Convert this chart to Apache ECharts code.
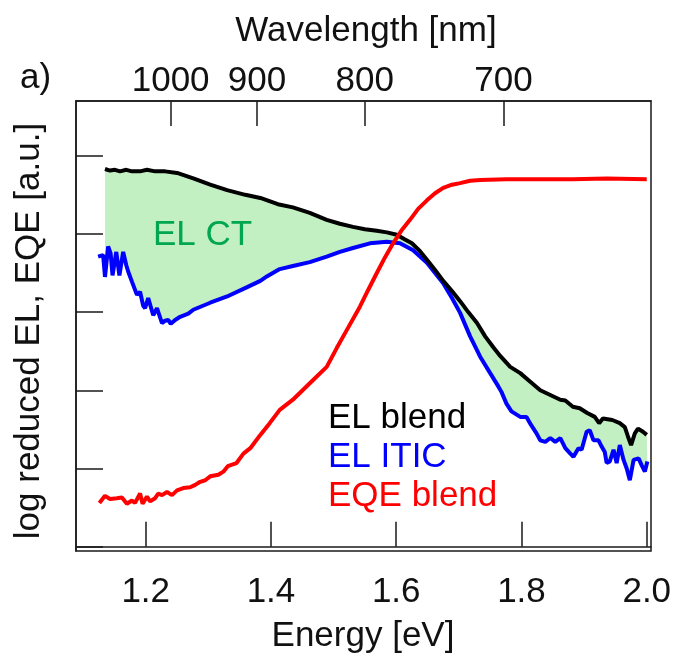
<!DOCTYPE html>
<html><head><meta charset="utf-8">
<script src="https://cdn.jsdelivr.net/npm/echarts@6/dist/echarts.min.js"></script>
<style>html,body{margin:0;padding:0;background:#fff}#c{width:675px;height:659px}</style>
</head><body><div id="c"></div>
<script>
// Energy axis (eV) and log reduced values (decades, arbitrary offset)
const blendE = [1.135,1.143,1.151,1.159,1.169,1.178,1.191,1.202,1.215,1.231,1.250,1.276,1.303,1.330,1.359,1.383,1.411,1.435,1.462,1.489,1.510,1.531,1.550,1.569,1.585,1.601,1.614,1.625,1.638,1.649,1.662,1.675,1.689,1.702,1.715,1.729,1.742,1.755,1.766,1.782,1.798,1.814,1.830,1.846,1.862,1.870,1.882,1.893,1.905,1.917,1.924,1.930,1.945,1.957,1.965,1.970,1.975,1.981,1.986,1.994,2.000];
const elBlend = [4.83,4.81,4.82,4.80,4.82,4.80,4.80,4.82,4.80,4.80,4.78,4.71,4.63,4.56,4.50,4.46,4.38,4.34,4.27,4.18,4.13,4.09,4.06,4.04,4.02,3.99,3.93,3.88,3.78,3.67,3.54,3.40,3.27,3.14,3.00,2.86,2.69,2.55,2.44,2.30,2.22,2.11,2.00,1.94,1.88,1.87,1.79,1.77,1.71,1.66,1.58,1.64,1.62,1.58,1.53,1.41,1.30,1.45,1.51,1.47,1.43];

const iticE = [1.124,1.132,1.135,1.140,1.144,1.147,1.153,1.158,1.164,1.169,1.172,1.178,1.186,1.191,1.196,1.199,1.204,1.212,1.218,1.226,1.231,1.236,1.240,1.247,1.255,1.268,1.276,1.303,1.330,1.362,1.383,1.394,1.414,1.435,1.462,1.489,1.510,1.531,1.558,1.585,1.606,1.627,1.649,1.675,1.689,1.702,1.718,1.734,1.750,1.763,1.768,1.776,1.784,1.798,1.808,1.815,1.824,1.830,1.838,1.846,1.854,1.862,1.870,1.878,1.883,1.891,1.896,1.904,1.909,1.915,1.923,1.928,1.933,1.936,1.941,1.947,1.952,1.957,1.963,1.968,1.973,1.979,1.987,1.992,1.997,2.001];
const elITIC = [3.71,3.73,3.45,3.84,3.75,3.47,3.77,3.47,3.77,3.60,3.52,3.39,3.22,3.26,3.08,3.05,3.18,2.96,3.05,2.86,2.89,2.90,2.85,2.90,2.94,2.98,3.03,3.12,3.20,3.32,3.40,3.46,3.55,3.59,3.64,3.71,3.77,3.82,3.88,3.90,3.88,3.79,3.63,3.37,3.18,2.99,2.69,2.43,2.22,2.05,1.98,1.83,1.73,1.66,1.66,1.56,1.45,1.36,1.34,1.39,1.34,1.39,1.26,1.19,1.15,1.26,1.24,1.47,1.49,1.36,1.36,1.28,1.21,1.07,1.09,1.24,1.07,1.30,1.11,1.00,0.85,1.11,1.13,1.04,0.96,1.09];

const eqeE = [1.126,1.135,1.143,1.154,1.162,1.170,1.178,1.183,1.191,1.195,1.202,1.207,1.215,1.220,1.226,1.234,1.242,1.250,1.260,1.271,1.279,1.287,1.295,1.303,1.316,1.324,1.331,1.345,1.356,1.367,1.383,1.398,1.414,1.435,1.462,1.489,1.505,1.521,1.542,1.555,1.569,1.582,1.595,1.608,1.622,1.635,1.649,1.662,1.675,1.689,1.702,1.718,1.734,1.776,1.830,1.882,1.936,2.000];
const eqeBlend = [0.56,0.65,0.61,0.62,0.63,0.55,0.59,0.56,0.68,0.55,0.64,0.58,0.62,0.68,0.66,0.70,0.66,0.72,0.75,0.76,0.79,0.83,0.85,0.90,0.92,0.96,1.03,1.07,1.19,1.26,1.43,1.58,1.75,1.88,2.09,2.30,2.54,2.77,3.07,3.28,3.50,3.70,3.88,4.04,4.18,4.32,4.43,4.52,4.59,4.63,4.65,4.68,4.69,4.70,4.70,4.70,4.71,4.70];

const energyTicks = [1.2, 1.4, 1.6, 1.8, 2.0];
const wavelengthTicks = [1000, 900, 800, 700];
const yTicks = [0, 1, 2, 3, 4, 5];

const FONT = 'Liberation Sans, Arial, sans-serif';
const AX = '#1a1a1a';
const zip = (a, b) => a.map((x, i) => [x, b[i]]);
const wlE = wavelengthTicks.map(l => 1239.84 / l);

const chart = echarts.init(document.getElementById('c'), null, {renderer: 'canvas'});

function txt(text, x, y, opts) {
  const o = Object.assign({size: 35, color: '#111', align: 'center', rot: 0}, opts || {});
  return {
    type: 'text', x: x, y: y, rotation: o.rot, z: 100,
    style: {
      text: text, font: o.size + 'px ' + FONT, fontSize: o.size, fontFamily: FONT, fill: o.color,
      align: o.align, verticalAlign: 'middle', textAlign: o.align, textVerticalAlign: 'middle'
    }
  };
}

chart.setOption({
  animation: false,
  backgroundColor: '#fff',
  grid: {left: 76, right: 24, top: 101, bottom: 108, show: true, borderColor: AX, borderWidth: 1.5, backgroundColor: 'transparent'},
  xAxis: [
    {
      type: 'value', position: 'bottom', min: 1.0887, max: 2.0068,
      axisLine: {show: true, lineStyle: {color: AX, width: 1.5}},
      axisTick: {show: true, inside: true, length: 25, customValues: energyTicks, lineStyle: {color: AX, width: 1.5}},
      axisLabel: {show: true, customValues: energyTicks, formatter: v => Number(v).toFixed(1), fontSize: 35, fontFamily: FONT, color: '#111', margin: 24},
      splitLine: {show: false}
    },
    {
      type: 'value', position: 'top', min: 1.0887, max: 2.0068,
      axisLine: {show: true, lineStyle: {color: AX, width: 1.5}},
      axisTick: {show: true, inside: true, length: 25, customValues: wlE, lineStyle: {color: AX, width: 1.5}},
      axisLabel: {show: true, customValues: wlE, formatter: v => String(Math.round(1239.84 / v)), fontSize: 35, fontFamily: FONT, color: '#111', margin: 2},
      splitLine: {show: false}
    }
  ],
  yAxis: [
    {
      type: 'value', position: 'left', min: -0.055, max: 5.70,
      axisLine: {show: true, lineStyle: {color: AX, width: 1.5}},
      axisTick: {show: true, inside: true, length: 27, customValues: yTicks, lineStyle: {color: AX, width: 1.5}},
      axisLabel: {show: false},
      splitLine: {show: false}
    }
  ],
  series: [
    {
      type: 'custom', name: 'EL CT', xAxisIndex: 0, yAxisIndex: 0, silent: true, z: 1,
      data: [[1.5, 3]],
      renderItem: function (params, api) {
        if (params.dataIndex !== 0) return null;
        const pts = [];
        for (let i = 0; i < blendE.length; i++) pts.push(api.coord([blendE[i], elBlend[i]]));
        for (let i = iticE.length - 1; i >= 0; i--) {
          if (iticE[i] >= blendE[0]) pts.push(api.coord([iticE[i], elITIC[i]]));
        }
        return {type: 'polygon', shape: {points: pts}, style: {fill: '#C2F0C2', stroke: null}};
      }
    },
    {type: 'line', name: 'EL ITIC', xAxisIndex: 0, data: zip(iticE, elITIC), showSymbol: false, z: 3,
      lineStyle: {color: '#0000FF', width: 4}, itemStyle: {color: '#0000FF'}},
    {type: 'line', name: 'EL blend', xAxisIndex: 0, data: zip(blendE, elBlend), showSymbol: false, z: 4,
      lineStyle: {color: '#000000', width: 4}, itemStyle: {color: '#000000'}},
    {type: 'line', name: 'EQE blend', xAxisIndex: 0, data: zip(eqeE, eqeBlend), showSymbol: false, z: 5,
      lineStyle: {color: '#FF0000', width: 4}, itemStyle: {color: '#FF0000'}}
  ],
  graphic: [
    txt('Wavelength [nm]', 366, 31),
    txt('Energy [eV]', 363, 636),
    txt('log reduced EL, EQE [a.u.]', 29, 331, {rot: Math.PI / 2}),
    txt('a)', 20, 78, {align: 'left'}),
    txt('EL CT', 153, 235, {align: 'left', color: '#00A651'}),
    txt('EL blend', 328, 418, {align: 'left', color: '#000000'}),
    txt('EL ITIC', 328, 457, {align: 'left', color: '#0000FF'}),
    txt('EQE blend', 328, 496, {align: 'left', color: '#FF0000'})
  ]
});
</script>
</body></html>
